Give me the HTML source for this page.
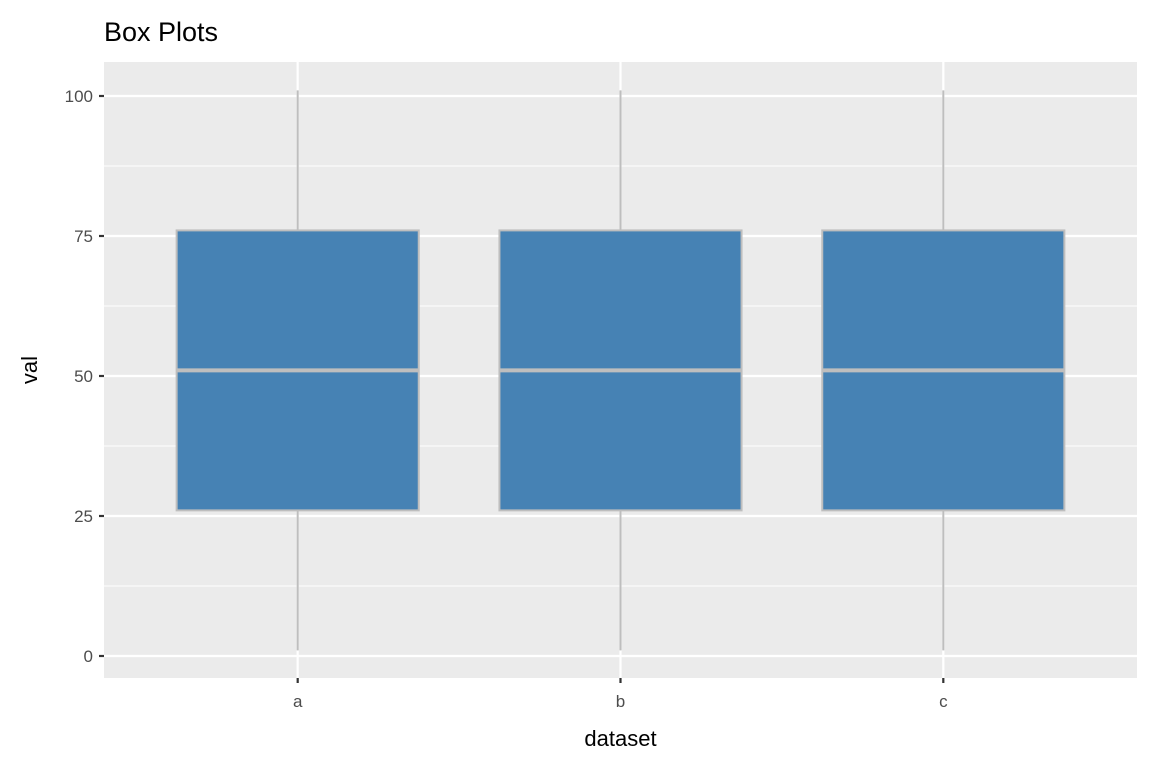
<!DOCTYPE html>
<html><head><meta charset="utf-8">
<style>
html,body{margin:0;padding:0;background:#fff;}
svg{display:block;font-family:"Liberation Sans",Arial,sans-serif;}
</style></head>
<body>
<svg id="chart" width="1152" height="768"></svg>
<script>
const categories = ["a","b","c"];
const whiskerLow = [1,1,1];
const q1 = [26,26,26];
const medians = [51,51,51];
const q3 = [76,76,76];
const whiskerHigh = [101,101,101];
const yTicks = [0,25,50,75,100];
const yMinor = [12.5,37.5,62.5,87.5];

const NS="http://www.w3.org/2000/svg";
const svg=document.getElementById('chart');
const P={l:104,r:1137,t:62,b:678};
const yMin=-3.93,yMax=106.07;
function y(v){return P.b-(v-yMin)/(yMax-yMin)*(P.b-P.t);}
const step=(P.r-P.l)/(categories.length-1+1.2);
function x(i){return P.l+step*(i+0.6);}
function el(tag,attrs,text){const e=document.createElementNS(NS,tag);for(const k in attrs)e.setAttribute(k,attrs[k]);if(text!==undefined)e.textContent=text;svg.appendChild(e);return e;}

let e=el('rect',{x:P.l,y:P.t,width:P.r-P.l,height:P.b-P.t,fill:'#EBEBEB'});


yMinor.forEach(v=>{let g=el('line',{x1:P.l,x2:P.r,y1:y(v),y2:y(v),stroke:'#fff','stroke-width':1.1});

});
yTicks.forEach(v=>{let g=el('line',{x1:P.l,x2:P.r,y1:y(v),y2:y(v),stroke:'#fff','stroke-width':2.2});


let t=el('line',{x1:P.l-5,x2:P.l,y1:y(v),y2:y(v),stroke:'#333','stroke-width':2.2});


let l=el('text',{x:P.l-11,y:y(v)+6,'text-anchor':'end','font-size':17,fill:'#4D4D4D'},v);

});
categories.forEach((c,i)=>{let g=el('line',{x1:x(i),x2:x(i),y1:P.t,y2:P.b,stroke:'#fff','stroke-width':2.2});


let t=el('line',{x1:x(i),x2:x(i),y1:P.b,y2:P.b+5,stroke:'#333','stroke-width':2.2});


let l=el('text',{x:x(i),y:P.b+29,'text-anchor':'middle','font-size':17,fill:'#4D4D4D'},c);

});
const bw=step*0.75;
categories.forEach((c,i)=>{
 let w1=el('line',{x1:x(i),x2:x(i),y1:y(whiskerHigh[i]),y2:y(q3[i]),stroke:'#BEBEBE','stroke-width':2});
 
 
 let w2=el('line',{x1:x(i),x2:x(i),y1:y(q1[i]),y2:y(whiskerLow[i]),stroke:'#BEBEBE','stroke-width':2});
 
 
 let b=el('rect',{x:x(i)-bw/2,y:y(q3[i]),width:bw,height:y(q1[i])-y(q3[i]),fill:'#4682B4',stroke:'#BEBEBE','stroke-width':2});
 
 
 let m=el('line',{x1:x(i)-bw/2,x2:x(i)+bw/2,y1:y(medians[i]),y2:y(medians[i]),stroke:'#BEBEBE','stroke-width':4});
 
 
});
let tt=el('text',{x:104,y:41,'font-size':27,fill:'#000'},'Box Plots');


let xt=el('text',{x:(P.l+P.r)/2,y:746,'text-anchor':'middle','font-size':22,fill:'#000'},'dataset');


let yt=el('text',{x:0,y:0,'text-anchor':'middle','font-size':22,fill:'#000',transform:'translate(37,'+((P.t+P.b)/2)+') rotate(-90)'},'val');


</script>
</body></html>
